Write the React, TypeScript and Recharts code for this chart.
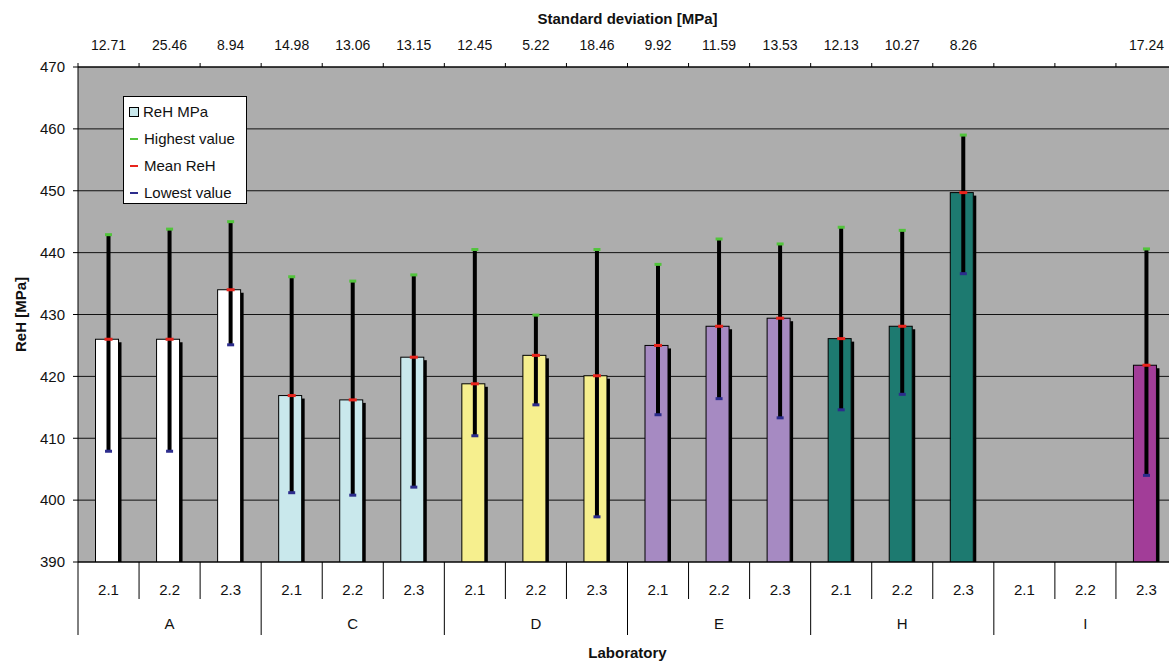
import { ComposedChart, Bar, Line, XAxis, YAxis, CartesianGrid, ErrorBar, Legend } from 'recharts';

// laboratories and sample series
const groups = ['A', 'C', 'D', 'E', 'H', 'I'];
const subLabels = ['2.1', '2.2', '2.3'];

const meanReH = [426.0, 426.0, 434.0, 416.9, 416.2, 423.1, 418.8, 423.4, 420.1, 425.0, 428.1, 429.4, 426.1, 428.1, 449.7, null, null, 421.8];
const highestValue = [442.9, 443.8, 445.0, 436.1, 435.4, 436.4, 440.5, 429.9, 440.5, 438.1, 442.2, 441.4, 444.1, 443.6, 459.0, null, null, 440.6];
const lowestValue = [407.9, 407.9, 425.1, 401.2, 400.8, 402.1, 410.4, 415.4, 397.3, 413.8, 416.4, 413.3, 414.6, 417.1, 436.6, null, null, 404.0];
const stdDeviation = ['12.71', '25.46', '8.94', '14.98', '13.06', '13.15', '12.45', '5.22', '18.46', '9.92', '11.59', '13.53', '12.13', '10.27', '8.26', '', '', '17.24'];

const yTicks = [390, 400, 410, 420, 430, 440, 450, 460, 470];

const legendLabels = ['ReH MPa', 'Highest value', 'Mean ReH', 'Lowest value'];

const groupColors: Record<string, string> = {
  A: '#ffffff',
  C: '#c9e8ec',
  D: '#f6ef8e',
  E: '#a68ac2',
  H: '#1d7a70',
  I: '#a23d98',
};

const HIGH_COLOR = '#52c43c';
const MEAN_COLOR = '#e8241c';
const LOW_COLOR = '#2c2c8c';
const FONT = '"Liberation Sans", Arial, sans-serif';

const data = groups.flatMap((g, gi) =>
  subLabels.map((s, si) => {
    const i = gi * 3 + si;
    const mean = meanReH[i];
    const high = highestValue[i];
    const low = lowestValue[i];
    return {
      key: `${g}-${s}`,
      group: g,
      sub: s,
      std: stdDeviation[i],
      mean,
      high,
      low,
      err: mean == null || high == null || low == null ? null : [mean - low, high - mean],
    };
  })
);

// bar plus a black "shadow" strip on its right, the pair centred on the category
function ShadedBar(props: any) {
  const { x, y, width, height, payload } = props;
  if (payload == null || payload.mean == null || !height || height <= 0) return null;
  const bx = x - 1.5;
  return (
    <g>
      <rect x={bx + width} y={y + 3} width={3} height={height - 3} fill="#000" />
      <rect x={bx} y={y} width={width} height={height} fill={groupColors[payload.group]} stroke="#000" strokeWidth={1} />
    </g>
  );
}

const makeDash = (color: string, w: number) => (props: any) => {
  const { cx, cy, index } = props;
  if (cx == null || cy == null || Number.isNaN(cy)) return <g key={index} />;
  return <rect key={index} x={cx - w / 2} y={cy - 1.5} width={w} height={3} fill={color} />;
};

function TopTick(props: any) {
  const { x, y, payload, index } = props;
  const half = payload?.offset ?? 30.5;
  return (
    <g>
      <line x1={x - half} x2={x - half} y1={y} y2={y - 4} stroke="#000" />
      <text x={x} y={y - 22} textAnchor="middle" dominantBaseline="central" fontSize={14} fontFamily={FONT} fill="#111">
        {data[index]?.std}
      </text>
    </g>
  );
}

function BottomTick(props: any) {
  const { x, y, payload, index } = props;
  const half = payload?.offset ?? 30.5;
  const row = data[index];
  const groupStart = index % 3 === 0;
  return (
    <g>
      <line x1={x - half} x2={x - half} y1={y} y2={y + (groupStart ? 73 : 37)} stroke="#000" />
      {index === data.length - 1 && <line x1={x + half} x2={x + half} y1={y} y2={y + 73} stroke="#000" />}
      <text x={x} y={y + 27} textAnchor="middle" dominantBaseline="central" fontSize={15} fontFamily={FONT} fill="#111">
        {row?.sub}
      </text>
      {index % 3 === 1 && (
        <text x={x} y={y + 61} textAnchor="middle" dominantBaseline="central" fontSize={15} fontFamily={FONT} fill="#111">
          {row?.group}
        </text>
      )}
    </g>
  );
}

function LegendBox() {
  const markColors = [null, HIGH_COLOR, MEAN_COLOR, LOW_COLOR];
  return (
    <div
      style={{
        boxSizing: 'border-box',
        width: 124,
        height: 108,
        background: '#fff',
        border: '1px solid #000',
        padding: '1px 0 0 5px',
        fontFamily: FONT,
        fontSize: 15,
        color: '#111',
      }}
    >
      {legendLabels.map((label, i) => (
        <div key={label} style={{ height: 27, display: 'flex', alignItems: 'center' }}>
          {markColors[i] == null ? (
            <span style={{ display: 'inline-block', boxSizing: 'border-box', width: 10, height: 10, background: groupColors.C, border: '1px solid #000', marginRight: 4 }} />
          ) : (
            <span style={{ display: 'inline-block', width: 8, height: 2, background: markColors[i] as string, margin: '0 6px 0 1px' }} />
          )}
          <span>{label}</span>
        </div>
      ))}
    </div>
  );
}

export default function App() {
  return (
    <div style={{ position: 'absolute', left: 0, top: 0, width: 1169, height: 666, overflow: 'hidden', background: '#fff' }}>
      <ComposedChart width={1177} height={666} data={data} margin={{ top: 0, right: 0, bottom: 0, left: 0 }}>
        <CartesianGrid vertical={false} stroke="#111" fill="#adadad" fillOpacity={1} />
        <XAxis
          dataKey="key"
          height={104}
          interval={0}
          tickSize={0}
          tickMargin={0}
          tickLine={false}
          axisLine={{ stroke: '#000' }}
          tick={<BottomTick />}
          label={{
            content: (p: any) => {
              const vb = p.viewBox;
              return (
                <text x={vb.x + vb.width / 2} y={vb.y + 90} textAnchor="middle" dominantBaseline="central" fontSize={15} fontWeight={700} fontFamily={FONT} fill="#111">
                  Laboratory
                </text>
              );
            },
          }}
        />
        <XAxis
          xAxisId="top"
          orientation="top"
          dataKey="key"
          height={67}
          interval={0}
          tickSize={0}
          tickMargin={0}
          tickLine={false}
          axisLine={{ stroke: '#000' }}
          tick={<TopTick />}
          label={{
            content: (p: any) => {
              const vb = p.viewBox;
              return (
                <text x={vb.x + vb.width / 2} y={vb.y + 18} textAnchor="middle" dominantBaseline="central" fontSize={15} fontWeight={700} fontFamily={FONT} fill="#111">
                  Standard deviation [MPa]
                </text>
              );
            },
          }}
        />
        <YAxis
          domain={[390, 470]}
          ticks={yTicks}
          interval={0}
          allowDataOverflow
          width={78}
          tickSize={5}
          tickMargin={8}
          axisLine={{ stroke: '#000' }}
          tickLine={{ stroke: '#000' }}
          tick={{ fontSize: 15, fill: '#111', fontFamily: FONT }}
          label={{
            content: (p: any) => {
              const vb = p.viewBox;
              const cx = vb.x + 20;
              const cy = vb.y + vb.height / 2;
              return (
                <text x={cx} y={cy} transform={`rotate(-90 ${cx} ${cy})`} textAnchor="middle" dominantBaseline="central" fontSize={15} fontWeight={700} fontFamily={FONT} fill="#111">
                  ReH [MPa]
                </text>
              );
            },
          }}
        />
        <Legend
          layout="vertical"
          align="center"
          verticalAlign="middle"
          wrapperStyle={{ left: 123, top: 96, width: 'auto', height: 'auto' }}
          content={() => <LegendBox />}
        />
        <Bar dataKey="mean" barSize={23} shape={<ShadedBar />} isAnimationActive={false} legendType="none">
          <ErrorBar dataKey="err" width={0} stroke="#000" strokeWidth={4} direction="y" isAnimationActive={false} />
        </Bar>
        <Line dataKey="high" stroke="none" dot={makeDash(HIGH_COLOR, 7)} activeDot={false} isAnimationActive={false} legendType="none" />
        <Line dataKey="mean" stroke="none" dot={makeDash(MEAN_COLOR, 8)} activeDot={false} isAnimationActive={false} legendType="none" />
        <Line dataKey="low" stroke="none" dot={makeDash(LOW_COLOR, 7)} activeDot={false} isAnimationActive={false} legendType="none" />
      </ComposedChart>
    </div>
  );
}
